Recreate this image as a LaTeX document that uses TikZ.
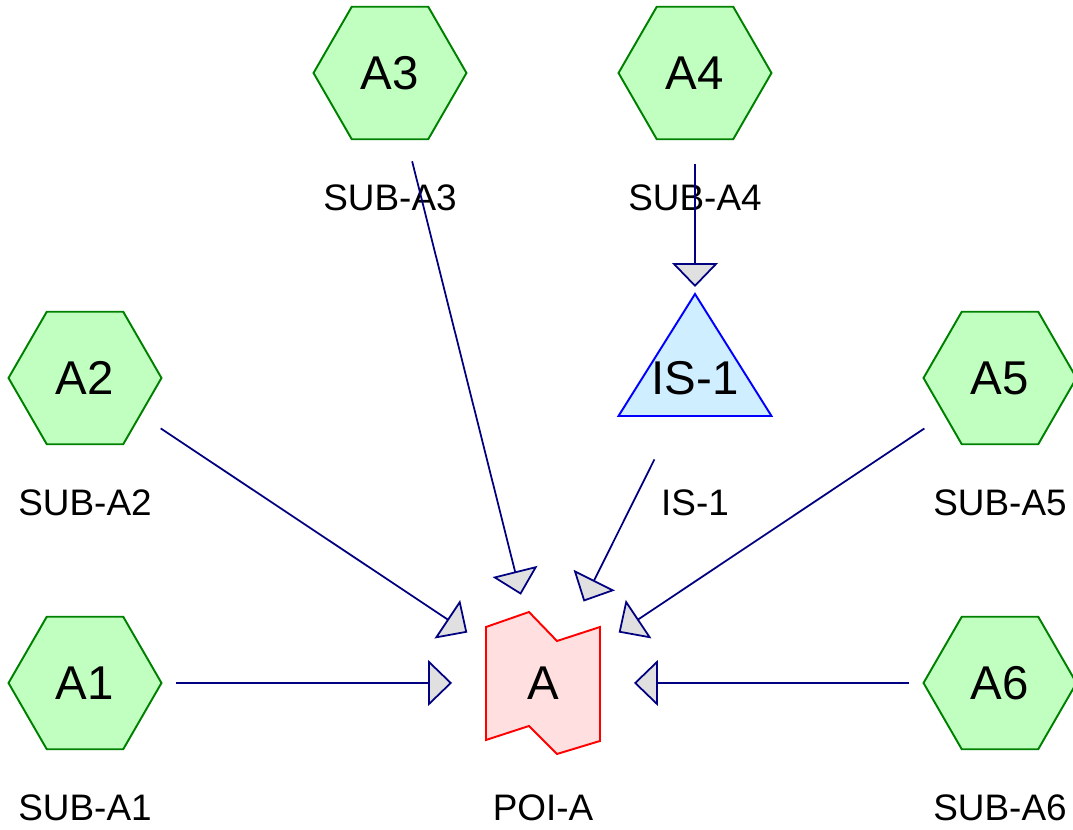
\documentclass[tikz,border=0pt]{standalone}
\usepackage{fontspec}
\setmainfont{Liberation Sans}
\usepackage{tikz}
\usetikzlibrary{arrows.meta}
\definecolor{hexfill}{HTML}{C0FFC0}
\definecolor{hexline}{HTML}{008000}
\definecolor{trifill}{HTML}{CFEEFF}
\definecolor{triline}{HTML}{0000FF}
\definecolor{poifill}{HTML}{FFDFDF}
\definecolor{poiline}{HTML}{FF0000}
\definecolor{linkcol}{HTML}{000080}
\definecolor{tipfill}{HTML}{E0E0E0}
\newcommand{\shapefont}{\fontsize{27}{31}\selectfont}
\newcommand{\tagfont}{\fontsize{21}{25}\selectfont}

\begin{document}
\begin{tikzpicture}[x=0.02cm, y=0.02cm,
  spot/.style={circle, minimum size=3.64cm, inner sep=0pt, outer sep=0pt, font=\shapefont},
  hexa/.style={spot, path picture={
    \draw[draw=hexline, fill=hexfill, line width=1.1pt] (path picture bounding box.center)
      +(0:1.53cm) -- +(60:1.53cm) -- +(120:1.53cm) -- +(180:1.53cm) -- +(240:1.53cm) -- +(300:1.53cm) -- cycle;}},
  tri/.style={spot, path picture={
    \draw[draw=triline, fill=trifill, line width=1.1pt] (path picture bounding box.center)
      +(0,1.68cm) -- +(-1.53cm,-0.76cm) -- +(1.53cm,-0.76cm) -- cycle;}},
  poi/.style={spot, path picture={
    \draw[draw=poiline, fill=poifill, line width=1.1pt] (path picture bounding box.center)
      +(-1.14cm,1.12cm) -- +(-0.28cm,1.42cm) -- +(0.28cm,0.84cm) -- +(1.14cm,1.12cm)
      -- +(1.14cm,-1.16cm) -- +(0.28cm,-1.42cm) -- +(-0.28cm,-0.86cm) -- +(-1.14cm,-1.14cm) -- cycle;}},
  tag/.style={font=\tagfont, inner sep=0pt},
  link/.style={draw=linkcol, line width=1pt, -{Triangle[length=0.48cm, width=0.92cm, fill=tipfill]}}
]
  \useasboundingbox (0,0) rectangle (1073,830);

  % Substations
  \foreach \nm/\txt/\px/\py in {a1/A1/85/147, a2/A2/85/452, a3/A3/390/757,
                                a4/A4/695/757, a5/A5/1000/452, a6/A6/1000/147} {
    \node[hexa] (\nm) at (\px, \py) {\txt};
    \node[tag] (\nm-tag) at (\px, \py-125) {SUB-\txt};
  }

  % Intermediate station
  \node[tri] (is1) at (695, 452) {\raisebox{-2pt}{IS-1}};
  \node[tag] (is1-tag) at (695, 327) {IS-1};

  % Point of interest
  \node[poi] (poia) at (543, 147) {A};
  \node[tag] (poia-tag) at (543, 22) {POI-A};

  % Links
  \draw[link] (a4) -- (is1);
  \foreach \nm in {a1,a2,a3,is1,a5,a6} {
    \draw[link] (\nm) -- (poia);
  }
\end{tikzpicture}
\end{document}
